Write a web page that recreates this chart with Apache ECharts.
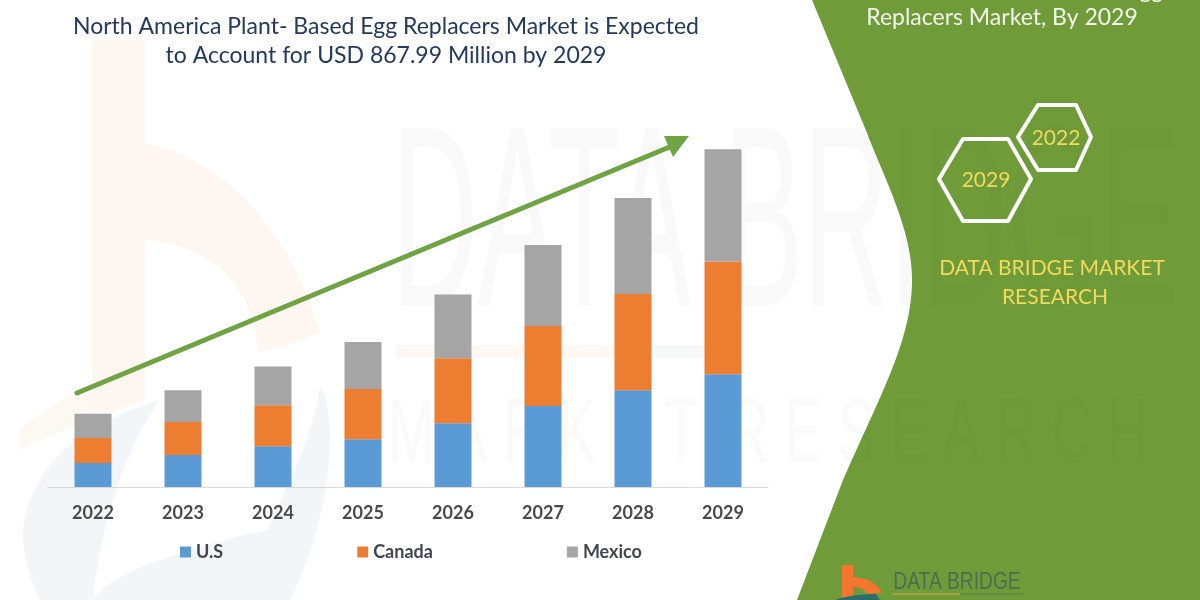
<!DOCTYPE html>
<html lang="en">
<head>
    <meta charset="UTF-8">
    <title>North America Plant-Based Egg Replacers Market</title>
    <script src="https://cdnjs.cloudflare.com/ajax/libs/echarts/6.0.0/echarts.min.js"></script>
    <style>
        html, body { margin: 0; padding: 0; background: #ffffff; }
        #chart { width: 1200px; height: 600px; overflow: hidden; }
    </style>
</head>
<body>
<div id="chart"></div>
<script>
    const years = ['2022', '2023', '2024', '2025', '2026', '2027', '2028', '2029'];
    const usValues = [62, 82, 105, 123, 164, 208, 249, 290];
    const canadaValues = [64, 85, 105, 129, 167, 206, 247, 290];
    const mexicoValues = [62, 82, 100, 121, 164, 208, 247, 288];

    const fontName = 'Lato';
    const panelGreen = '#6f9c39';
    const yellow = '#f1d95c';

    const chart = echarts.init(document.getElementById('chart'));

    function barSeries(name, values, color) {
        return { name: name, type: 'bar', stack: 'total', barWidth: 37, data: values, itemStyle: { color: color }, z: 5 };
    }

    // graphic has no path type, so flatten M/L/C strings into polygon points
    function outline(pathData) {
        const tokens = pathData.trim().split(/\s+/);
        const points = [];
        let i = 0, cmd = 'M';
        while (i < tokens.length) {
            if (/^[MLC]/.test(tokens[i])) { cmd = tokens[i][0]; tokens[i] = tokens[i].slice(1); }
            if (cmd === 'C') {
                const p0 = points[points.length - 1];
                const n = tokens.slice(i, i + 6).map(Number);
                for (let s = 1; s <= 24; s++) {
                    const t = s / 24, u = 1 - t;
                    points.push([
                        u * u * u * p0[0] + 3 * u * u * t * n[0] + 3 * u * t * t * n[2] + t * t * t * n[4],
                        u * u * u * p0[1] + 3 * u * u * t * n[1] + 3 * u * t * t * n[3] + t * t * t * n[5]
                    ]);
                }
                i += 6;
            } else {
                points.push([Number(tokens[i]), Number(tokens[i + 1])]);
                i += 2;
            }
        }
        return points;
    }

    function shape(pathData, fill, z) {
        return { type: 'polygon', z: z, shape: { points: outline(pathData) }, style: { fill: fill } };
    }

    // panel text helper
    function label(text, x, y, size, color, family, scaleX) {
        return {
            type: 'text', x: x, y: y, z: 10, scaleX: scaleX || 1,
            style: { text: text, fill: color, font: size + 'px "' + (family || fontName) + '"', align: 'center', verticalAlign: 'middle' }
        };
    }

    function hexagon(points) {
        return {
            type: 'polygon', z: 9, shape: { points: points },
            style: { fill: 'none', stroke: '#ffffff', lineWidth: 4, lineJoin: 'round' }
        };
    }

    const graphicItems = [
        // pale logo behind the chart
        shape('M92 40 L145 40 L145 143 C225 160 290 230 320 333 C290 345 275 350 258 352 C255 290 215 245 145 240 L145 400 L92 420', '#fef7f1', 0),
        shape('M20 430 C40 410 70 395 92 388 L92 420 C65 430 40 440 20 450', '#fef8f3', 0),
        shape('M23 530 C30 470 75 425 160 400 C130 440 100 520 93 600 L40 600 C28 575 23 555 23 530', '#f3f6f9', 0),
        shape('M93 600 C110 570 200 545 267 530 C290 480 315 430 320 385 C340 420 330 520 290 600', '#f3f6f9', 0),
        { type: 'rect', z: 0, shape: { x: 395, y: 345, width: 250, height: 13 }, style: { fill: '#fef8f3' } },
        { type: 'rect', z: 0, shape: { x: 645, y: 345, width: 80, height: 13 }, style: { fill: '#f6f8fa' } },
        // green panel
        shape('M812 0 L1200 0 L1200 600 L797 600 L843 480 C880 395 912 340 912 280 C912 230 885 180 867 133', panelGreen, 1),
        // pale company name behind the chart
        { type: 'text', z: 2, x: 392, y: 105, scaleX: 0.46, style: { text: 'DATA BRIDGE', fill: 'rgba(60,60,60,0.03)', font: '258px "Liberation Sans"', verticalAlign: 'top', align: 'left' } },
        { type: 'text', z: 2, x: 388, y: 392, scaleX: 0.62, style: { text: 'M A R K E T  R E S E A R C H', fill: 'rgba(60,60,60,0.025)', font: '90px "Liberation Sans"', verticalAlign: 'top', align: 'left' } },
        // growth arrow
        { type: 'line', z: 8, shape: { x1: 77, y1: 393, x2: 672, y2: 146 }, style: { stroke: '#70a343', lineWidth: 5, lineCap: 'round' } },
        { type: 'polygon', z: 8, shape: { points: [[664, 136], [689, 136], [673, 157]] }, style: { fill: '#70a343' } },
        // panel contents
        { type: 'text', z: 10, x: 1163, y: -9, style: { text: 'North America Plant- Based Egg', fill: '#f3f7ec', font: '23px "' + fontName + '"', align: 'right', verticalAlign: 'middle' } },
        label('Replacers Market, By 2029', 1002, 18, 23, '#f3f7ec'),
        hexagon([[939, 179], [963, 139], [1008, 139], [1031, 179], [1008, 221], [963, 221]]),
        hexagon([[1018, 137], [1038, 105], [1076, 105], [1091, 137], [1076, 170], [1038, 170]]),
        label('2029', 986, 180, 21, yellow),
        label('2022', 1056, 138, 21, yellow),
        label('DATA BRIDGE MARKET', 1052, 268, 21, yellow),
        label('RESEARCH', 1055, 297, 21, yellow),
        // company logo
        shape('M842 565 L853 565 L853 577 C868 578 878 584 882 593 L868 594 C862 588 858 587 853 587 L853 597 L842 600', '#f4762e', 9),
        shape('M835 600 C845 596 862 594 876 594 L880 600', '#2b6f6a', 9),
        label('DATA BRIDGE', 957, 582, 24, '#4f6b52', 'Liberation Sans', 0.8),
        { type: 'line', z: 9, shape: { x1: 892, y1: 594, x2: 960, y2: 594 }, style: { stroke: '#b9a24a', lineWidth: 1.5 } },
        { type: 'line', z: 9, shape: { x1: 960, y1: 594, x2: 1023, y2: 594 }, style: { stroke: '#5f8048', lineWidth: 1.5 } }
    ];

    chart.setOption({
        animation: false,
        backgroundColor: '#ffffff',
        title: {
            text: 'North America Plant- Based Egg Replacers Market is Expected\nto Account for USD 867.99 Million by 2029',
            left: 381, top: 7, textAlign: 'center',
            textStyle: { color: '#24395c', fontFamily: fontName, fontSize: 23, fontWeight: 'normal', lineHeight: 29 }
        },
        legend: {
            left: 175, top: 538, itemWidth: 11, itemHeight: 11, itemGap: 134,
            icon: 'rect',
            data: ['U.S', 'Canada', 'Mexico'],
            textStyle: { color: '#44464f', fontFamily: fontName, fontSize: 18, fontWeight: 'bold' }
        },
        grid: { left: 48, width: 720, top: 98, height: 389 },
        xAxis: {
            type: 'category', data: years,
            axisTick: { show: false },
            axisLine: { lineStyle: { color: '#d9d9d9', width: 1 } },
            axisLabel: { color: '#4a4a4a', fontFamily: fontName, fontSize: 18, fontWeight: 'bold', margin: 17 }
        },
        yAxis: { type: 'value', min: 0, max: 1000, show: false, splitLine: { show: false } },
        series: [
            barSeries('U.S', usValues, '#5b9bd5'),
            barSeries('Canada', canadaValues, '#ed7d31'),
            barSeries('Mexico', mexicoValues, '#a5a5a5')
        ],
        graphic: graphicItems
    });
</script>
</body>
</html>
